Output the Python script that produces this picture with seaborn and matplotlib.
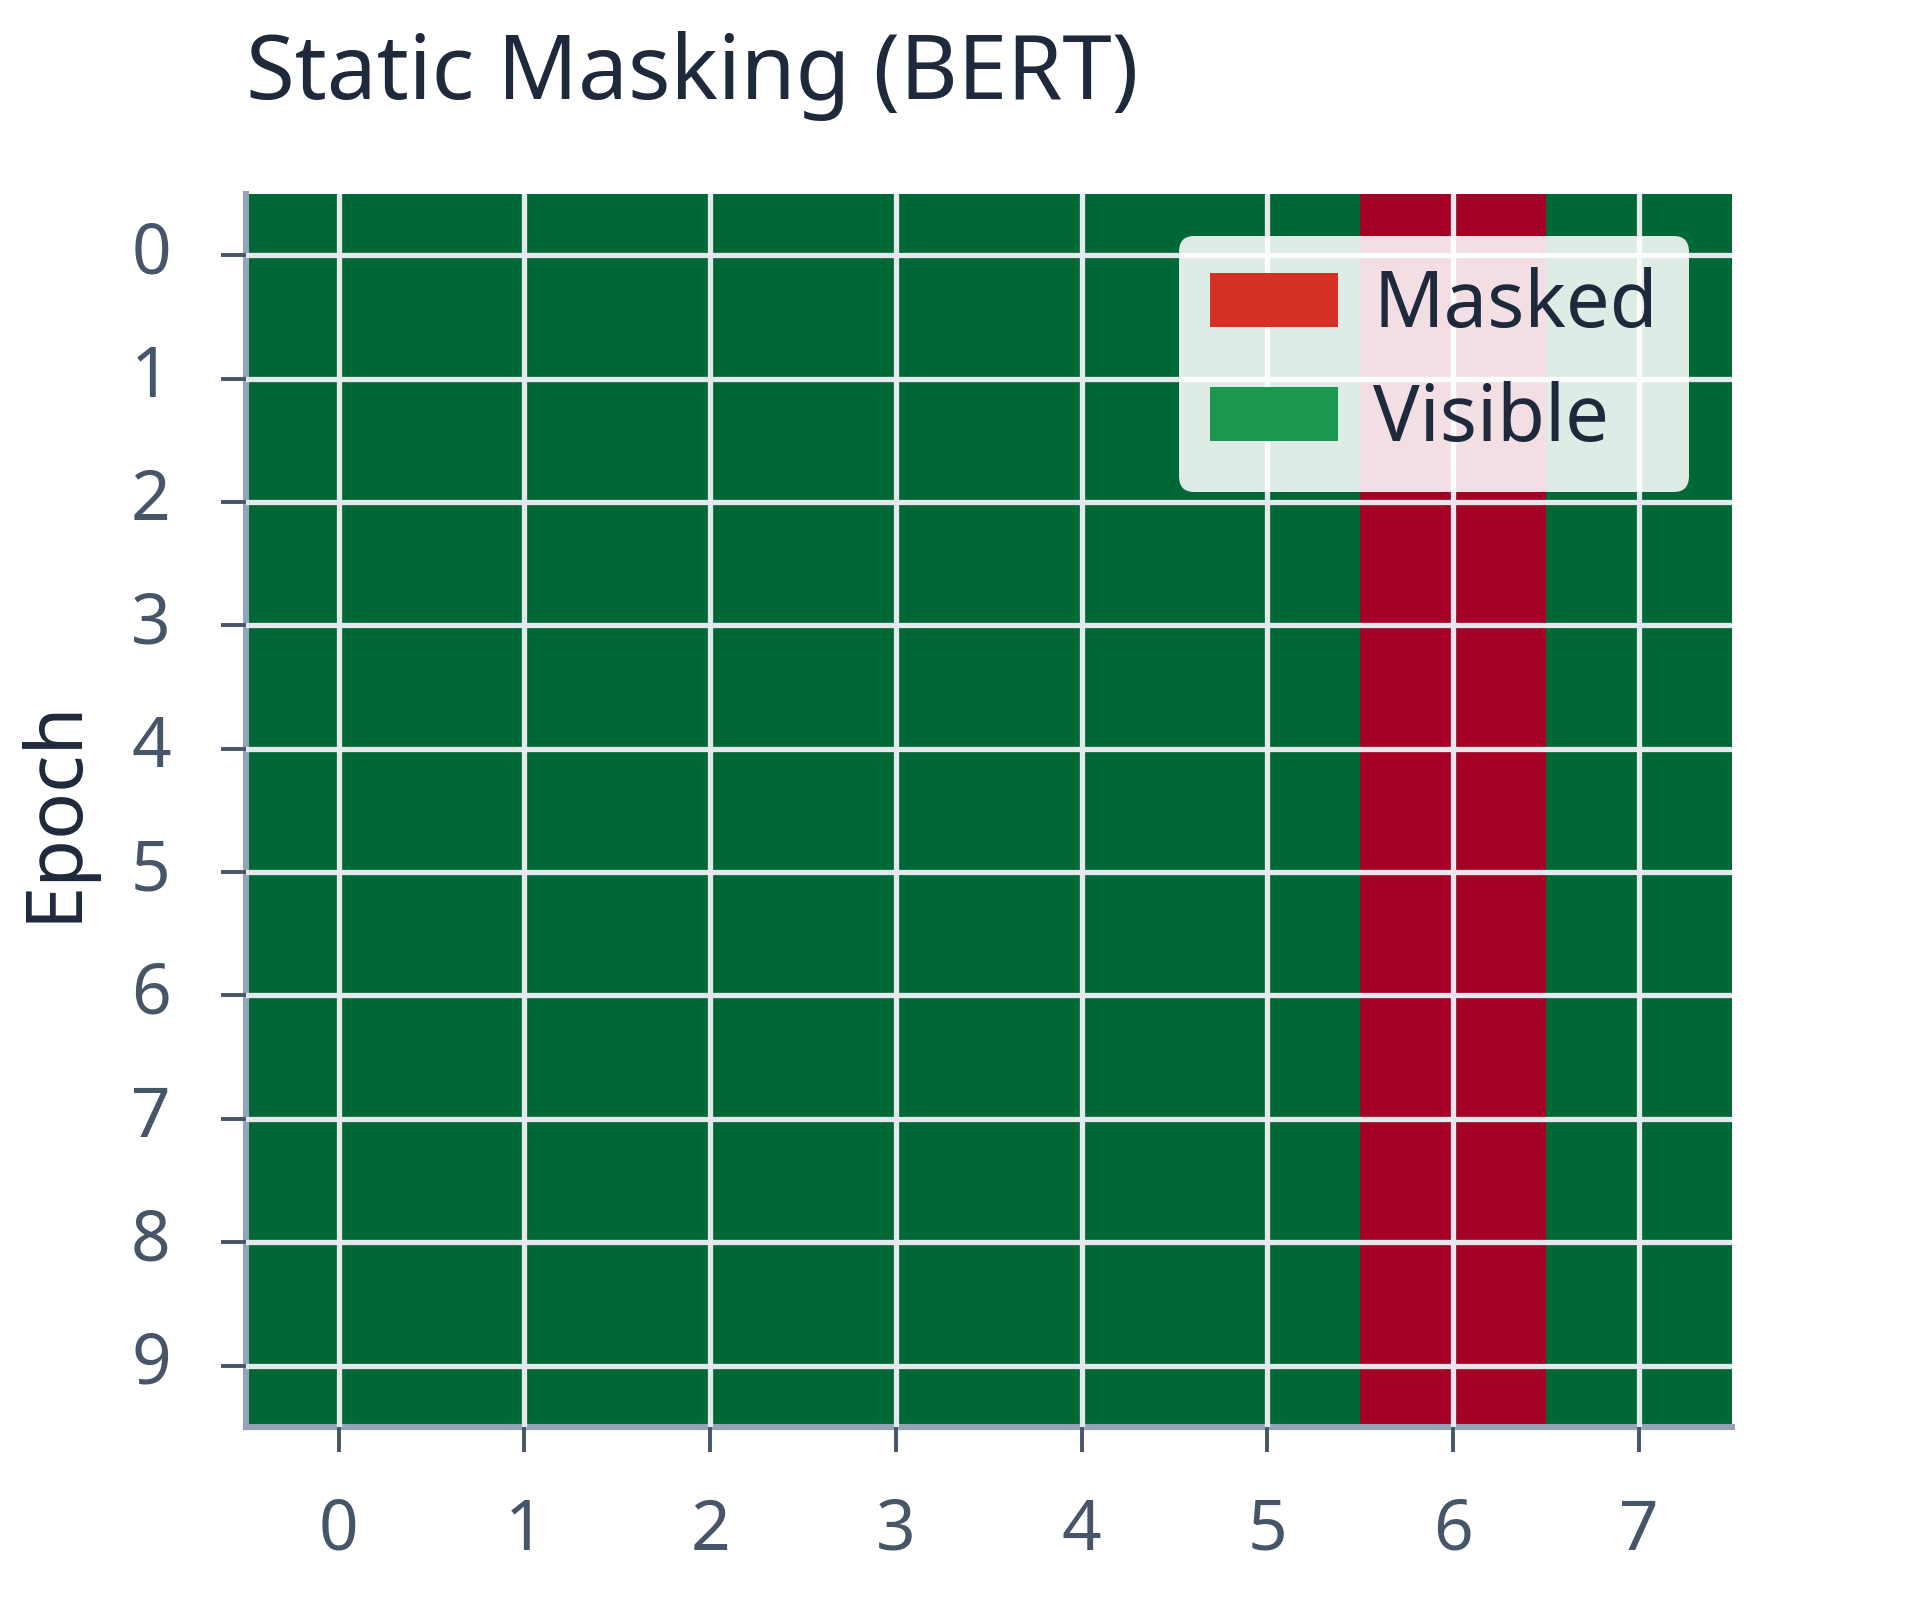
import numpy as np
import pandas as pd
import seaborn as sns
import matplotlib.pyplot as plt
from matplotlib.patches import Patch

# static masking: same token position masked in every epoch
epochs = list(range(10))
positions = list(range(8))
masked_position = 6
visible = [[0 if p == masked_position else 1 for p in positions] for e in epochs]

df = pd.DataFrame(visible, index=epochs, columns=positions)

sns.set_theme(style="white")
plt.rcParams['font.family'] = ['Noto Sans', 'DejaVu Sans']

fig = plt.figure(figsize=(9.6, 8), dpi=200)
ax = fig.add_axes([0.128, 0.108, 0.774, 0.771])

sns.heatmap(df, cmap="RdYlGn", vmin=0, vmax=1, cbar=False, ax=ax)

# put the spines and grid back on top of the cells
for s in ['left', 'bottom']:
    ax.spines[s].set_visible(True)
    ax.spines[s].set_color('#94a3b8')
    ax.spines[s].set_linewidth(2.2)
for s in ['top', 'right']:
    ax.spines[s].set_visible(False)
ax.set_axisbelow(False)
ax.grid(True, color='#e5e9ee', linewidth=1.9)

ax.set_xticks(np.arange(len(positions)) + 0.5)
ax.set_xticklabels(positions, rotation=0)
ax.set_yticks(np.arange(len(epochs)) + 0.5)
ax.set_yticklabels(epochs, rotation=0)
ax.tick_params(axis='both', length=9, width=1.4, color='#475569',
               labelcolor='#475569', labelsize=25, bottom=True, left=True)
ax.tick_params(axis='x', pad=16)
ax.tick_params(axis='y', pad=18)

ax.set_xlabel("")
ax.set_ylabel("Epoch", fontsize=28, color='#1e293b', labelpad=13)
ax.set_title("Static Masking (BERT)", loc='left', fontsize=32, color='#1e293b', pad=34)

handles = [Patch(facecolor='#d73027', edgecolor='none', label='Masked'),
           Patch(facecolor='#1a9850', edgecolor='none', label='Visible')]
leg = ax.legend(handles=handles, loc='upper right', fontsize=28, framealpha=0.88,
                facecolor='white', edgecolor='none', fancybox=True,
                handlelength=1.65, handleheight=0.7, borderaxespad=0.55,
                labelspacing=0.45, handletextpad=0.45)
for t in leg.get_texts():
    t.set_color('#1e293b')

fig.savefig("out.png", dpi=200)
